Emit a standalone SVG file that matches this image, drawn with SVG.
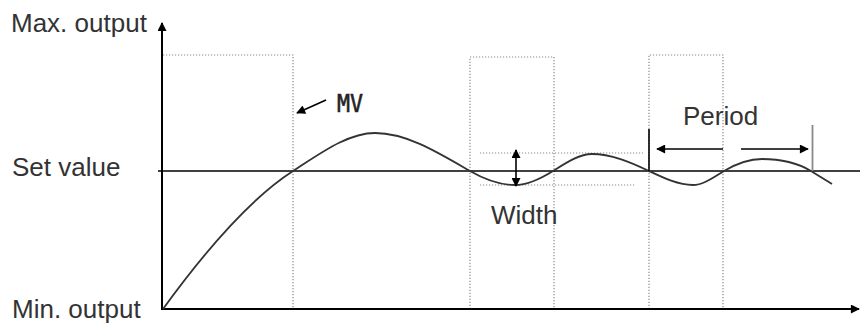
<svg xmlns="http://www.w3.org/2000/svg" width="860" height="326" viewBox="0 0 860 326">
<style>
.lbl{font-family:"Liberation Sans",Arial,sans-serif;font-size:26px;fill:#333}
.mono{font-family:"DejaVu Sans Mono","Liberation Mono",monospace;font-size:24px;fill:#222;stroke:#222;stroke-width:0.6}
.dot{fill:none;stroke:#8a8a8a;stroke-width:1.2;stroke-dasharray:1.2 1.8}
.axis{fill:none;stroke:#000;stroke-width:2}
.arr{fill:none;stroke:#000;stroke-width:1.6}
</style>
<defs>
<marker id="ah" viewBox="0 0 10 10" refX="9" refY="5" markerWidth="11" markerHeight="9" markerUnits="userSpaceOnUse" orient="auto-start-reverse">
<path d="M0,0 L10,5 L0,10 z" fill="#000"/>
</marker>
<marker id="ahBig" viewBox="0 0 10 10" refX="9" refY="5" markerWidth="11" markerHeight="9" markerUnits="userSpaceOnUse" orient="auto">
<path d="M0,0 L10,5 L0,10 z" fill="#000"/>
</marker>
</defs>
<g id="pulses">
<path class="dot" d="M163,55 H293 V309"/>
<path class="dot" d="M470,309 V57 H554 V309"/>
<path class="dot" d="M649,309 V55 H723 V309"/>
<path class="dot" d="M480,153 H643"/>
<path class="dot" d="M480,185 H635"/>
</g>
<g id="axes">
<line class="axis" x1="162" y1="310" x2="162" y2="23" marker-end="url(#ahBig)"/>
<line class="axis" x1="161" y1="309" x2="859" y2="309" marker-end="url(#ahBig)"/>
<line x1="158" y1="171" x2="860" y2="171" stroke="#000" stroke-width="1.6"/>
</g>
<g id="curve">
<path d="M163,309 C200,258 248,200 293,171 C320.3,153.5 347.7,133 375,133 C406.7,133 438.3,152.6 470,171 C485,179.7 500,185 515,185 C527.7,185 540.3,179 553,171 C566,162.8 579,154 592,154 C611,154 630,161.9 649,171 C663.7,178 678.3,185 693,185 C703.3,185 713.7,177.1 724,171 C736.7,163.5 749.3,159 762,159 C778.3,159 794.7,161.2 811,171 C818,175.2 825,179.8 832,184" fill="none" stroke="#333" stroke-width="1.8"/>
</g>
<g id="connectors">
<line class="arr" x1="326" y1="100" x2="297" y2="113" marker-end="url(#ah)"/>
<line class="arr" x1="516" y1="150" x2="516" y2="186" marker-start="url(#ah)" marker-end="url(#ah)"/>
<line class="arr" x1="723" y1="149" x2="657" y2="149" marker-end="url(#ah)"/>
<line class="arr" x1="741" y1="149" x2="808" y2="149" marker-end="url(#ah)"/>
<line x1="649" y1="129" x2="649" y2="171" stroke="#000" stroke-width="1.6"/>
<line x1="812.5" y1="125" x2="812.5" y2="171" stroke="#888" stroke-width="1.8"/>
</g>
<g id="labels">
<text class="lbl" x="11" y="32">Max. output</text>
<text class="lbl" x="12" y="176">Set value</text>
<text class="lbl" x="12" y="318">Min. output</text>
<text class="lbl" x="491" y="224">Width</text>
<text class="lbl" x="683" y="125">Period</text>
<text class="mono" x="337" y="111.5" textLength="26" lengthAdjust="spacingAndGlyphs">MV</text>
</g>
</svg>
